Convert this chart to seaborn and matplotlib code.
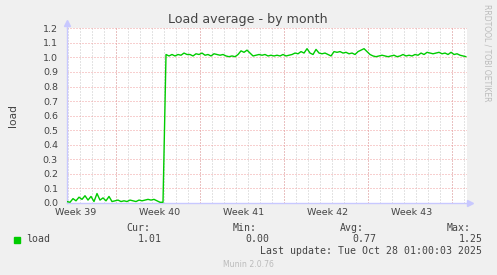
import numpy as np
import pandas as pd
import matplotlib
matplotlib.use("Agg")
import matplotlib.pyplot as plt
from matplotlib.patches import Rectangle
import seaborn as sns

# ---- data ----
low_values = [0.01, 0.005, 0.03, 0.015, 0.04, 0.025, 0.05, 0.02, 0.045, 0.01, 0.065,
              0.02, 0.035, 0.015, 0.045, 0.01, 0.015, 0.02, 0.01, 0.015, 0.01, 0.02,
              0.015, 0.01, 0.02, 0.015, 0.02, 0.025, 0.02, 0.025, 0.015, 0.005, 0.005]
high_values = [1.02, 1.01, 1.02, 1.01, 1.02, 1.015, 1.03, 1.02, 1.02, 1.01, 1.025, 1.02,
               1.03, 1.015, 1.02, 1.01, 1.025, 1.02, 1.015, 1.02, 1.01, 1.005, 1.01, 1.005,
               1.02, 1.045, 1.035, 1.05, 1.03, 1.01, 1.015, 1.02, 1.015, 1.02, 1.01, 1.015,
               1.01, 1.015, 1.01, 1.02, 1.01, 1.015, 1.02, 1.03, 1.025, 1.04, 1.03, 1.06,
               1.03, 1.02, 1.055, 1.03, 1.025, 1.03, 1.02, 1.01, 1.04, 1.035, 1.04, 1.03,
               1.035, 1.025, 1.03, 1.02, 1.04, 1.05, 1.06, 1.04, 1.02, 1.01, 1.005, 1.01,
               1.015, 1.01, 1.005, 1.01, 1.015, 1.005, 1.01, 1.02, 1.01, 1.015, 1.01, 1.02,
               1.015, 1.03, 1.02, 1.035, 1.03, 1.025, 1.03, 1.035, 1.025, 1.03, 1.02, 1.035,
               1.02, 1.025, 1.015, 1.01, 1.005]
load_values = low_values + high_values
sample_step_days = 0.25
week_labels = ["Week 39", "Week 40", "Week 41", "Week 42", "Week 43"]
first_week_start = -2.917   # days relative to left edge
x_span_days = 33.33
y_ticks = [0.0, 0.1, 0.2, 0.3, 0.4, 0.5, 0.6, 0.7, 0.8, 0.9, 1.0, 1.1, 1.2]
legend_name = "load"
stat_headers = ["Cur:", "Min:", "Avg:", "Max:"]
stat_values = ["1.01", "0.00", "0.77", "1.25"]
title = "Load average - by month"
last_update = "Last update: Tue Oct 28 01:00:03 2025"

df = pd.DataFrame({"day": np.arange(len(load_values)) * sample_step_days,
                   "load": load_values})

# ---- figure ----
W, H = 497, 275
sns.set_style("white")
plt.rcParams["font.family"] = ["DejaVu Sans"]
fig = plt.figure(figsize=(W / 100, H / 100), dpi=100, facecolor="#F0F0F0")
ax = fig.add_axes([67 / W, 1 - 203 / H, 400 / W, 174.7 / H])
ax.set_facecolor("white")

px = 0.72
minor_col = "#C8C8C8"
major_col = "#F0A0A0"
axis_col = "#C8C8FF"
text_col = "#444444"

# vertical grid: days (minor) and week boundaries (major)
week_bounds = [first_week_start + 7 * k for k in range(1, 6)]
for d in np.arange(first_week_start, x_span_days, 1.0):
    if d <= 0:
        continue
    ax.axvline(d, color=minor_col, lw=px, ls=(0, (1, 2)), zorder=1)
for d in week_bounds:
    ax.axvline(d, color=major_col, lw=px, ls=(0, (1, 2)), zorder=1.5)
for yv in y_ticks:
    ax.axhline(yv, color=major_col, lw=px, ls=(0, (1, 2)), zorder=1.5)

sns.lineplot(data=df, x="day", y="load", ax=ax, color="#00CC00", lw=1.0, zorder=3)

ax.set_xlim(0, x_span_days)
ax.set_ylim(0, 1.2)
ax.set_yticks(y_ticks)
ax.set_yticklabels([f"{v:.1f}" for v in y_ticks])
ax.set_xticks([b - 7 + 3.65 for b in week_bounds])
ax.set_xticklabels(week_labels)
ax.set_xticks(week_bounds, minor=True)
ax.tick_params(axis="x", which="major", length=0, pad=3.5, labelsize=6.8,
               colors=text_col)
ax.tick_params(axis="x", which="minor", length=2.2, width=px, color="#F07070")
ax.tick_params(axis="y", length=2, width=px, color=major_col, pad=4.5,
               labelsize=6.8, labelcolor=text_col)
ax.set_xlabel("")
ax.set_ylabel("load", fontsize=7.7, color=text_col, labelpad=18)

for s in ["top", "right"]:
    ax.spines[s].set_visible(False)
for s in ["left", "bottom"]:
    ax.spines[s].set_color(axis_col)
    ax.spines[s].set_linewidth(1.0)

# axis arrows
tr = ax.transAxes
ax.plot([0, 0], [1, 1.03], color=axis_col, lw=1.0, transform=tr, clip_on=False)
ax.plot([0], [1.03], marker="^", ms=4.5, color=axis_col, mec=axis_col,
        transform=tr, clip_on=False)
ax.plot([1, 1.008], [0, 0], color=axis_col, lw=1.0, transform=tr, clip_on=False)
ax.plot([1.008], [0], marker=">", ms=4.5, color=axis_col, mec=axis_col,
        transform=tr, clip_on=False)

# title
fig.text(247.5 / W, 1 - 19 / H, title, ha="center", va="center", fontsize=9.1,
         color=text_col)
# rrdtool watermark
fig.text(487 / W, 1 - 53 / H, "RRDTOOL / TOBI OETIKER", rotation=270, ha="center",
         va="center", fontsize=5.5, color="#BBBBBB")

# legend / stats
mono = "DejaVu Sans Mono"
fs = 7.1
fig.add_artist(Rectangle((14 / W, 1 - 243 / H), 6 / W, 6 / H,
                         transform=fig.transFigure, color="#00CC00"))
fig.text(26 / W, 1 - 239.5 / H, legend_name, family=mono, fontsize=fs,
         color=text_col, va="center", ha="left")
hdr_x = [126.7, 233, 340, 446.7]
val_x = [162, 269.3, 376, 482.3]
for hx, h in zip(hdr_x, stat_headers):
    fig.text(hx / W, 1 - 228 / H, h, family=mono, fontsize=fs, color=text_col,
             va="center", ha="left")
for vx, v in zip(val_x, stat_values):
    fig.text(vx / W, 1 - 239.5 / H, v, family=mono, fontsize=fs, color=text_col,
             va="center", ha="right")
fig.text(482.3 / W, 1 - 251 / H, last_update, family=mono, fontsize=fs,
         color=text_col, va="center", ha="right")
fig.text(248 / W, 1 - 264.5 / H, "Munin 2.0.76", fontsize=5.6, color="#BBBBBB",
         va="center", ha="center")

fig.savefig("out.png", dpi=100, facecolor=fig.get_facecolor())
